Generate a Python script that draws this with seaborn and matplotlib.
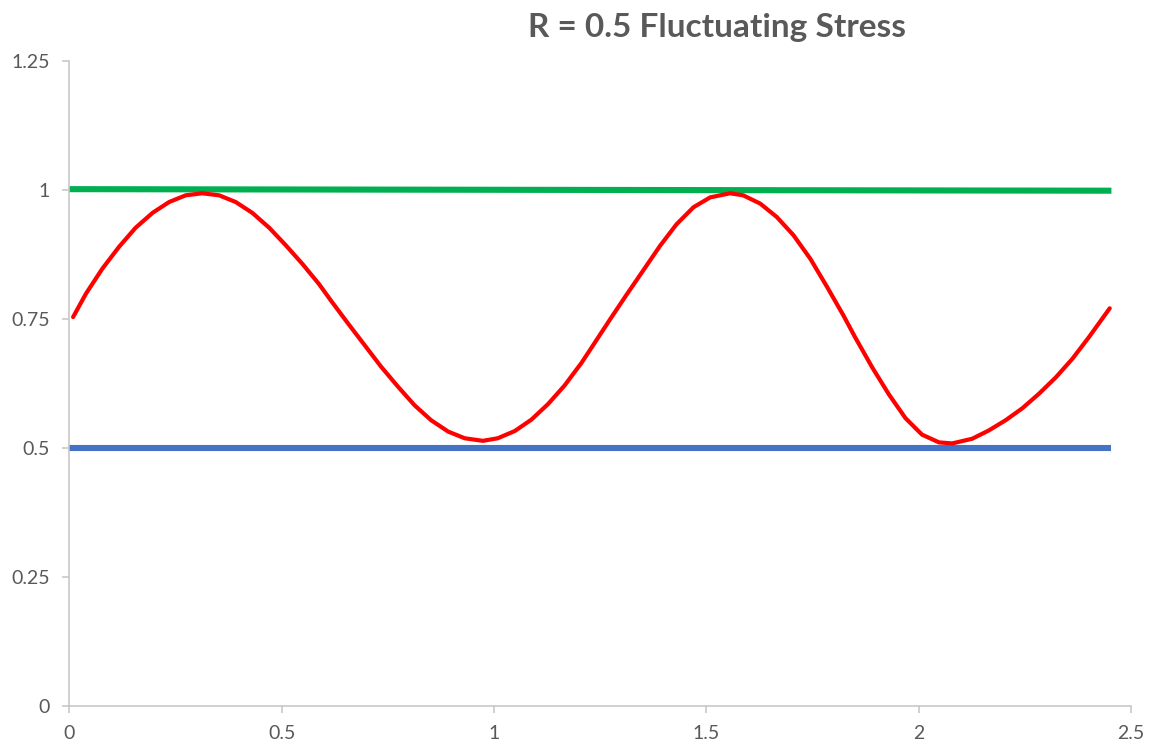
import matplotlib
matplotlib.use("Agg")
import matplotlib.pyplot as plt
import seaborn as sns
import pandas as pd

# Stress history: red fluctuating stress, green maximum, blue minimum
red_x = [0.009, 0.039, 0.078, 0.117, 0.156, 0.196, 0.235, 0.274, 0.313, 0.353,
         0.392, 0.431, 0.471, 0.510, 0.549, 0.588, 0.617, 0.656, 0.695, 0.734,
         0.774, 0.813, 0.852, 0.892, 0.931, 0.974, 1.009, 1.049, 1.088, 1.127,
         1.166, 1.206, 1.234, 1.273, 1.312, 1.352, 1.391, 1.430, 1.470, 1.509,
         1.556, 1.587, 1.627, 1.666, 1.705, 1.745, 1.784, 1.823, 1.851, 1.891,
         1.930, 1.969, 2.008, 2.048, 2.079, 2.126, 2.165, 2.205, 2.244, 2.283,
         2.323, 2.362, 2.401, 2.450]
red_y = [0.754, 0.799, 0.848, 0.890, 0.927, 0.956, 0.977, 0.990, 0.994, 0.990,
         0.977, 0.956, 0.927, 0.893, 0.857, 0.818, 0.785, 0.742, 0.700, 0.658,
         0.619, 0.583, 0.554, 0.532, 0.519, 0.514, 0.519, 0.533, 0.555, 0.585,
         0.621, 0.665, 0.700, 0.749, 0.797, 0.845, 0.892, 0.934, 0.967, 0.986,
         0.994, 0.990, 0.974, 0.948, 0.913, 0.867, 0.813, 0.757, 0.714, 0.656,
         0.604, 0.558, 0.526, 0.511, 0.509, 0.518, 0.534, 0.554, 0.577, 0.605,
         0.637, 0.673, 0.715, 0.771]

green_x = [0.0, 2.454]
green_y = [1.002, 0.999]

blue_x = [0.0, 2.454]
blue_y = [0.5, 0.5]

x_ticks = [0, 0.5, 1, 1.5, 2, 2.5]
x_tick_labels = ["0", "0.5", "1", "1.5", "2", "2.5"]
y_ticks = [0, 0.25, 0.5, 0.75, 1, 1.25]
y_tick_labels = ["0", "0.25", "0.5", "0.75", "1", "1.25"]

title = "R = 0.5 Fluctuating Stress"

sns.set_style("white")
plt.rcParams["font.family"] = ["Lato", "DejaVu Sans"]

text_color = "#595959"
axis_color = "#C4C4C4"

fig = plt.figure(figsize=(11.49, 7.47), dpi=100)
ax = fig.add_axes([0.0603, 0.055, 0.9240, 0.863])

red = pd.DataFrame({"x": red_x, "y": red_y})
green = pd.DataFrame({"x": green_x, "y": green_y})
blue = pd.DataFrame({"x": blue_x, "y": blue_y})

sns.lineplot(data=blue, x="x", y="y", ax=ax, color="#4472C4", linewidth=4.4,
             sort=False, estimator=None, solid_capstyle="butt")
sns.lineplot(data=green, x="x", y="y", ax=ax, color="#00B050", linewidth=4.4,
             sort=False, estimator=None, solid_capstyle="butt")
sns.lineplot(data=red, x="x", y="y", ax=ax, color="#FF0000", linewidth=3.0,
             sort=False, estimator=None, solid_capstyle="round",
             solid_joinstyle="round")

ax.set_xlim(0, 2.5)
ax.set_ylim(0, 1.25)
ax.set_xticks(x_ticks)
ax.set_xticklabels(x_tick_labels)
ax.set_yticks(y_ticks)
ax.set_yticklabels(y_tick_labels)
ax.set_xlabel("")
ax.set_ylabel("")

for side in ("top", "right"):
    ax.spines[side].set_visible(False)
for side in ("left", "bottom"):
    ax.spines[side].set_color(axis_color)
    ax.spines[side].set_linewidth(1.1)

ax.tick_params(axis="both", which="major", direction="out", length=4.8,
               width=1.1, color=axis_color, labelcolor=text_color,
               labelsize=14, pad=9)
ax.tick_params(axis="x", bottom=True)
ax.tick_params(axis="y", left=True)

fig.text(0.624, 0.963, title, ha="center", va="center", fontsize=24,
         fontweight="bold", color=text_color)

fig.savefig("out.png", dpi=100, facecolor="white")
